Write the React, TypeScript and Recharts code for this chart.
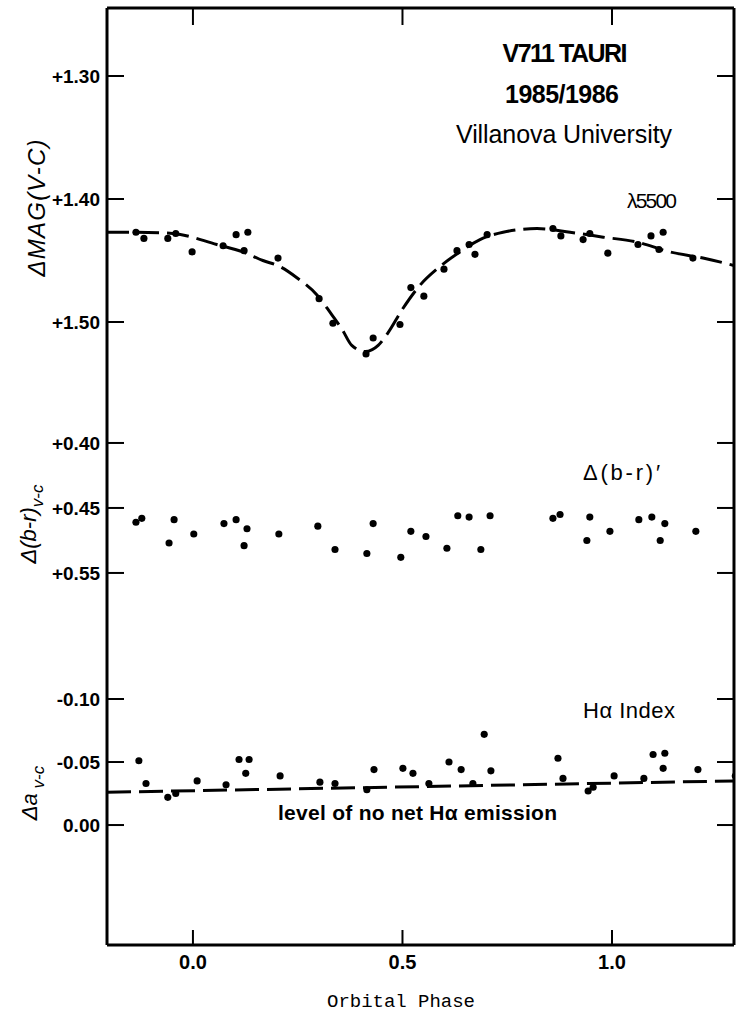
import React from 'react';
import { ComposedChart, XAxis, YAxis, ZAxis, Scatter, Line } from 'recharts';

const W = 738;
const H = 1014;

// orbital phase axis
const phaseRange = [-0.205, 1.291];
const phaseTicks = [0, 0.5, 1.0];
const phaseTickLabels = ['0.0', '0.5', '1.0'];

// λ5500 ΔMAG(V-C) observations
const magPhases = [-0.136, -0.117, -0.06, -0.041, -0.002, 0.072, 0.103, 0.122, 0.131, 0.203, 0.301, 0.334, 0.413, 0.43, 0.494, 0.52, 0.551, 0.599, 0.63, 0.659, 0.673, 0.702, 0.859, 0.878, 0.931, 0.947, 0.99, 1.062, 1.093, 1.112, 1.122, 1.193];
const magValues = [1.427, 1.432, 1.432, 1.428, 1.443, 1.438, 1.429, 1.442, 1.427, 1.448, 1.481, 1.501, 1.526, 1.513, 1.502, 1.472, 1.479, 1.457, 1.442, 1.437, 1.445, 1.429, 1.424, 1.43, 1.433, 1.428, 1.444, 1.437, 1.43, 1.441, 1.427, 1.448];

// dashed light-curve fit through the λ5500 points
const fitPhases = [-0.205, -0.134, -0.048, 0.057, 0.119, 0.167, 0.208, 0.248, 0.296, 0.327, 0.356, 0.379, 0.411, 0.442, 0.465, 0.501, 0.542, 0.589, 0.637, 0.685, 0.74, 0.821, 0.9, 0.979, 1.06, 1.138, 1.217, 1.291];
const fitValues = [1.427, 1.427, 1.428, 1.437, 1.443, 1.45, 1.455, 1.464, 1.478, 1.492, 1.506, 1.519, 1.524, 1.519, 1.509, 1.489, 1.47, 1.455, 1.443, 1.433, 1.427, 1.424, 1.427, 1.431, 1.435, 1.443, 1.448, 1.454];

const magTicks = [1.3, 1.4, 1.5];
const magTickLabels = ['+1.30', '+1.40', '+1.50'];
const magRange = [1.2447, 2.0065];

// Δ(b-r)' observations
const brPhases = [-0.136, -0.122, -0.057, -0.045, 0.002, 0.074, 0.103, 0.122, 0.129, 0.205, 0.298, 0.339, 0.415, 0.43, 0.496, 0.52, 0.556, 0.606, 0.632, 0.659, 0.687, 0.709, 0.859, 0.876, 0.94, 0.947, 0.995, 1.064, 1.095, 1.115, 1.126, 1.2];
const brValues = [0.461, 0.458, 0.477, 0.459, 0.47, 0.462, 0.459, 0.479, 0.466, 0.47, 0.464, 0.482, 0.485, 0.462, 0.488, 0.468, 0.472, 0.481, 0.456, 0.457, 0.482, 0.456, 0.458, 0.455, 0.475, 0.457, 0.468, 0.459, 0.457, 0.475, 0.462, 0.468];

const brTicks = [0.4, 0.45, 0.5];
const brTickLabels = ['+0.40', '+0.45', '+0.55'];
const brRange = [0.0654, 0.7862];

// Hα index observations
const haPhases = [-0.129, -0.112, -0.06, -0.041, 0.01, 0.079, 0.11, 0.134, 0.126, 0.208, 0.303, 0.339, 0.415, 0.432, 0.501, 0.525, 0.563, 0.611, 0.64, 0.668, 0.695, 0.711, 0.871, 0.883, 0.943, 0.955, 1.005, 1.076, 1.098, 1.126, 1.122, 1.205, 1.294];
const haValues = [-0.051, -0.033, -0.022, -0.025, -0.035, -0.032, -0.052, -0.052, -0.041, -0.039, -0.034, -0.033, -0.028, -0.044, -0.045, -0.041, -0.033, -0.05, -0.044, -0.033, -0.072, -0.043, -0.053, -0.037, -0.027, -0.03, -0.039, -0.037, -0.056, -0.057, -0.045, -0.044, -0.039];

// level of no net Hα emission
const haLevelPhases = [-0.205, 1.291];
const haLevelValues = [-0.026, -0.035];

const haTicks = [-0.1, -0.05, 0];
const haTickLabels = ['-0.10', '-0.05', '0.00'];
const haRange = [-0.6484, 0.0952];

const pts = (xs: number[], ys: number[]) => xs.map((p, i) => ({ phase: p, v: ys[i] }));

const magData = pts(magPhases, magValues);
const fitData = pts(fitPhases, fitValues);
const brData = pts(brPhases, brValues);
const haData = pts(haPhases, haValues);
const haLevelData = pts(haLevelPhases, haLevelValues);

const tickFont = { fill: '#000', fontSize: 19, fontWeight: 'bold', fontFamily: 'Liberation Sans' };
const frame = { stroke: '#000', strokeWidth: 3 };
const tickStroke = { stroke: '#000', strokeWidth: 2 };
// axes need a non-zero size to be drawn, but should take no room
const THIN = 0.01;

const leftAxis = (id: string, range: number[], ticks: number[], labels: string[], line: boolean) => (
  <YAxis
    key={id}
    yAxisId={id}
    orientation="left"
    dataKey="v"
    type="number"
    domain={range}
    reversed
    allowDataOverflow
    ticks={ticks}
    interval={0}
    width={THIN}
    tickSize={-17}
    tickMargin={24}
    tickFormatter={(v: number) => labels[ticks.indexOf(v)] ?? ''}
    tick={tickFont}
    axisLine={line ? frame : false}
    tickLine={tickStroke}
  />
);

const rightAxis = (id: string, range: number[], ticks: number[], line: boolean) => (
  <YAxis
    key={id}
    yAxisId={id}
    orientation="right"
    dataKey="v"
    type="number"
    domain={range}
    reversed
    allowDataOverflow
    ticks={ticks}
    interval={0}
    width={THIN}
    tickSize={-17}
    tickFormatter={() => ''}
    axisLine={line ? frame : false}
    tickLine={tickStroke}
  />
);

export default function App() {
  return (
    <div style={{ position: 'absolute', left: 0, top: 0, width: W, height: H, background: '#fff' }}>
      <ComposedChart width={W} height={H} margin={{ top: 8, right: 4, bottom: 69, left: 107 }}>
        <XAxis
          dataKey="phase"
          type="number"
          domain={phaseRange}
          allowDataOverflow
          ticks={phaseTicks}
          interval={0}
          height={THIN}
          tickSize={-15}
          tickMargin={25}
          tickFormatter={(v: number) => phaseTickLabels[phaseTicks.indexOf(v)] ?? ''}
          tick={{ ...tickFont, fontSize: 20 }}
          axisLine={frame}
          tickLine={tickStroke}
        />
        <XAxis
          xAxisId="top"
          orientation="top"
          dataKey="phase"
          type="number"
          domain={phaseRange}
          allowDataOverflow
          ticks={phaseTicks}
          interval={0}
          height={THIN}
          tickSize={-17}
          tickFormatter={() => ''}
          axisLine={frame}
          tickLine={tickStroke}
        />
        {leftAxis('mag', magRange, magTicks, magTickLabels, true)}
        {leftAxis('br', brRange, brTicks, brTickLabels, false)}
        {leftAxis('ha', haRange, haTicks, haTickLabels, false)}
        {rightAxis('magR', magRange, magTicks, true)}
        {rightAxis('brR', brRange, brTicks, false)}
        {rightAxis('haR', haRange, haTicks, false)}
        <ZAxis type="number" range={[40, 40]} />

        <Line
          yAxisId="mag"
          data={fitData}
          dataKey="v"
          type="monotone"
          stroke="#000"
          strokeWidth={3}
          strokeDasharray="22 8"
          dot={false}
          isAnimationActive={false}
        />
        <Scatter yAxisId="mag" data={magData} fill="#000" isAnimationActive={false} />
        <Scatter yAxisId="br" data={brData} fill="#000" isAnimationActive={false} />
        <Line
          yAxisId="ha"
          data={haLevelData}
          dataKey="v"
          type="linear"
          stroke="#000"
          strokeWidth={3}
          strokeDasharray="24 8"
          dot={false}
          isAnimationActive={false}
        />
        <Scatter yAxisId="ha" data={haData} fill="#000" isAnimationActive={false} />
      </ComposedChart>

      <svg
        width={W}
        height={H}
        style={{ position: 'absolute', left: 0, top: 0, pointerEvents: 'none' }}
        fontFamily="Liberation Sans"
        fill="#000"
      >
        <text x={565} y={62} textAnchor="middle" fontSize={25} fontWeight="bold" textLength={125}>V711 TAURI</text>
        <text x={562} y={103} textAnchor="middle" fontSize={25} fontWeight="bold" textLength={114}>1985/1986</text>
        <text x={564} y={143} textAnchor="middle" fontSize={25} textLength={216}>Villanova University</text>
        <text x={627} y={208} fontSize={21} textLength={50}>λ5500</text>
        <text x={583} y={480} fontSize={22} textLength={77}>Δ(b-r)′</text>
        <text x={583} y={718} fontSize={22} textLength={92}>Hα Index</text>
        <text x={278} y={820} fontSize={21} fontWeight="bold" textLength={279}>level of no net Hα  emission</text>

        <text transform="translate(45,208) rotate(-90)" textAnchor="middle" fontSize={24} fontStyle="italic" textLength={137}>
          ΔMAG(V-C)
        </text>
        <text transform="translate(36,524) rotate(-90)" textAnchor="middle" fontSize={22} fontStyle="italic">
          Δ(b-r)<tspan fontSize={17} dy={7}>v-c</tspan>
        </text>
        <text transform="translate(37,793) rotate(-90)" textAnchor="middle" fontSize={22} fontStyle="italic">
          Δa<tspan fontSize={17} dy={7}> v-c</tspan>
        </text>

        <text x={401} y={1007} textAnchor="middle" fontSize={19} fontFamily="Liberation Mono" textLength={148}>
          Orbital Phase
        </text>
      </svg>
    </div>
  );
}
